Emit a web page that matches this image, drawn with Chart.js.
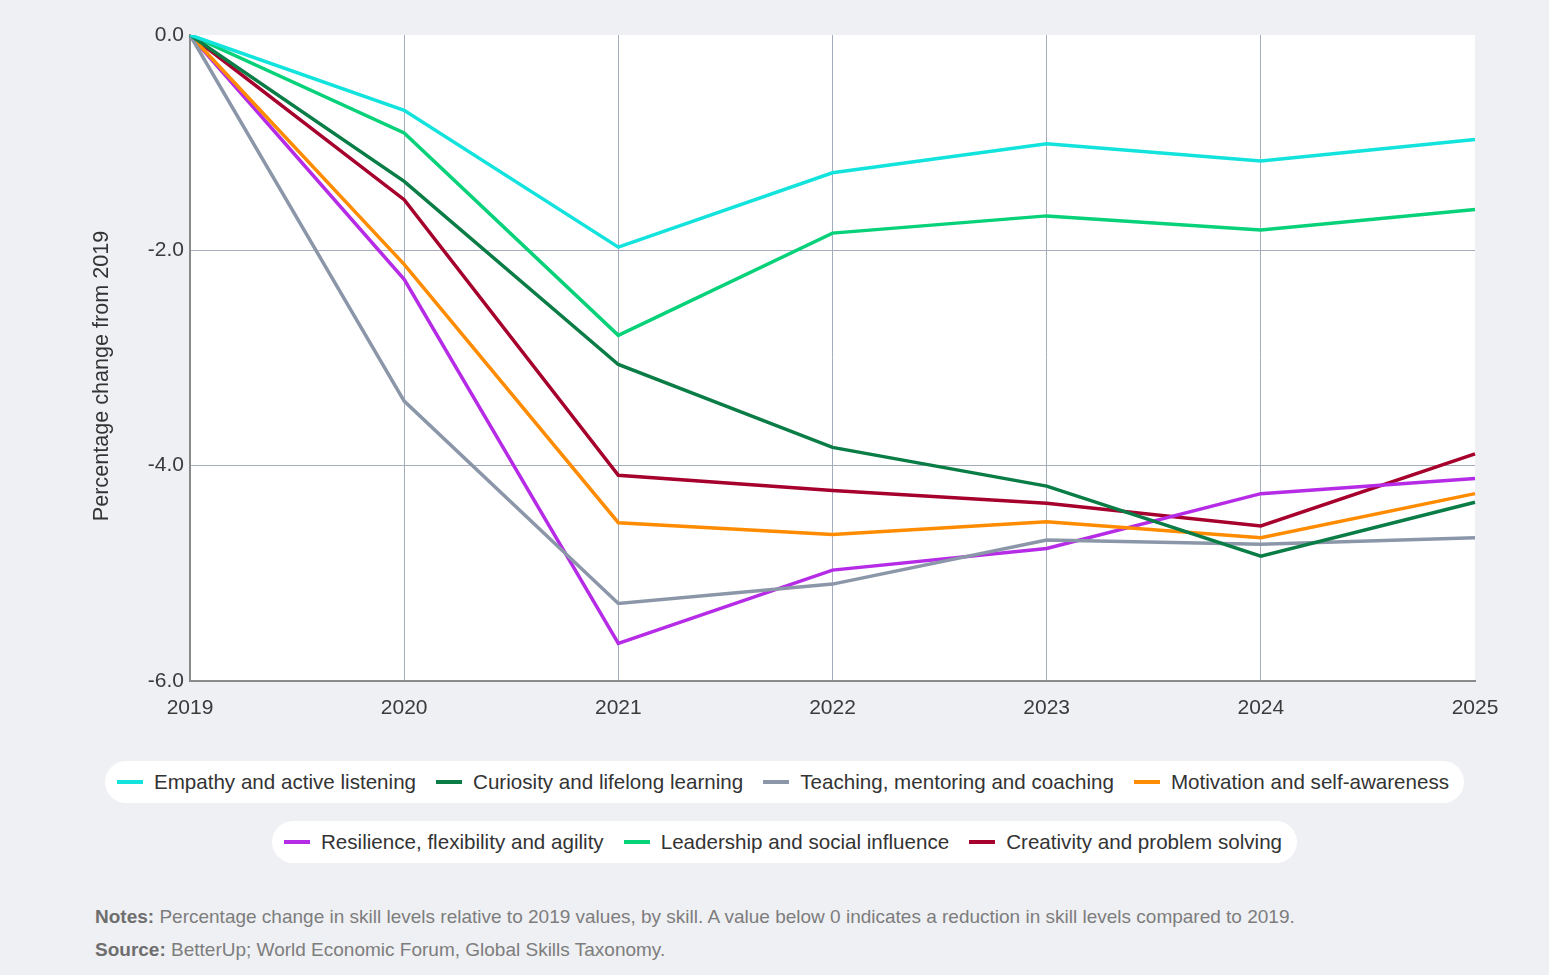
<!DOCTYPE html>
<html>
<head>
<meta charset="utf-8">
<script src="https://cdn.jsdelivr.net/npm/chart.js@4/dist/chart.umd.min.js"></script>
<style>
  html, body { margin:0; padding:0; background:#eff0f4; width:1549px; height:975px; overflow:hidden;
    font-family:"Liberation Sans", Arial, sans-serif; }
  #wrap { position:absolute; left:0; top:0; width:1549px; height:730px; }
  #legend { position:absolute; left:0; top:761px; width:1569px; text-align:center; }
  .row { display:inline-flex; align-items:center; height:42px; background:#fff; border-radius:21px;
    padding:0 15px 0 12px; margin-bottom:18px; font-size:20.6px; color:#333; white-space:nowrap; }
  .item { display:inline-flex; align-items:center; margin-left:20px; }
  .item:first-child { margin-left:0; }
  .sym { display:inline-block; width:26px; height:4px; margin-right:11px; }
  #notes { position:absolute; left:95px; top:900px; font-size:19px; color:#7d7d7d; line-height:33px; }
  #notes b { color:#6e6e6e; }
</style>
</head>
<body>
<div id="wrap"><canvas id="c"></canvas></div>
<div id="legend"></div>
<div id="notes">
  <div><b>Notes:</b> Percentage change in skill levels relative to 2019 values, by skill. A value below 0 indicates a reduction in skill levels compared to 2019.</div>
  <div><b>Source:</b> BetterUp; World Economic Forum, Global Skills Taxonomy.</div>
</div>
<script>
const years = ["2019","2020","2021","2022","2023","2024","2025"];
const seriesNames = [
  "Empathy and active listening",
  "Curiosity and lifelong learning",
  "Teaching, mentoring and coaching",
  "Motivation and self-awareness",
  "Resilience, flexibility and agility",
  "Leadership and social influence",
  "Creativity and problem solving"
];
const empathy    = [0, -0.70, -1.97, -1.28, -1.01, -1.17, -0.97];
const curiosity  = [0, -1.36, -3.06, -3.83, -4.19, -4.84, -4.34];
const teaching   = [0, -3.40, -5.28, -5.10, -4.69, -4.73, -4.67];
const motivation = [0, -2.13, -4.53, -4.64, -4.52, -4.67, -4.26];
const resilience = [0, -2.27, -5.65, -4.97, -4.77, -4.26, -4.12];
const leadership = [0, -0.91, -2.79, -1.84, -1.68, -1.81, -1.62];
const creativity = [0, -1.53, -4.09, -4.23, -4.35, -4.56, -3.89];
const yTicks = [0, -2, -4, -6];
const yTitle = "Percentage change from 2019";

const colors = ["#12e3dc", "#0a7d47", "#8b97a9", "#ff8c00", "#b52be6", "#07d179", "#a6012d"];
const values = [empathy, curiosity, teaching, motivation, resilience, leadership, creativity];

const datasets = seriesNames.map((n, i) => ({
  label: n, data: values[i], borderColor: colors[i], backgroundColor: colors[i],
  borderWidth: 3.5, pointRadius: 0, tension: 0, fill: false
}));

const bgPlugin = {
  id: 'bg',
  beforeDraw(chart) {
    const a = chart.chartArea, ctx = chart.ctx;
    ctx.save(); ctx.fillStyle = '#ffffff';
    ctx.fillRect(a.left, a.top, a.right - a.left, a.bottom - a.top);
    ctx.restore();
  }
};

const font = { family: '"Liberation Sans", Arial, sans-serif', size: 21 };

new Chart(document.getElementById('c'), {
  type: 'line',
  data: { labels: years, datasets },
  options: {
    responsive: true, maintainAspectRatio: false, animation: false,
    layout: { padding: { left: 80, right: 74, top: 35, bottom: 0 } },
    plugins: { legend: { display: false }, tooltip: { enabled: false } },
    scales: {
      x: {
        offset: false,
        grid: { color: ctx => (ctx.index === years.length - 1 ? 'rgba(0,0,0,0)' : '#a5adbd'), lineWidth: 1, drawTicks: false },
        border: { display: true, color: '#8a8a8a', width: 2 },
        ticks: { color: '#3a3a3a', font, padding: 15, maxRotation: 0 },
        afterFit(s) { s.height = 49; }
      },
      y: {
        min: -6, max: 0,
        afterBuildTicks(s) { s.ticks = yTicks.map(v => ({ value: v })); },
        grid: { color: ctx => (ctx.tick && (ctx.tick.value === 0 || ctx.tick.value === -6) ? 'rgba(0,0,0,0)' : '#a5adbd'), lineWidth: 1, drawTicks: false },
        border: { display: true, color: '#8a8a8a', width: 2 },
        ticks: { color: '#3a3a3a', font, padding: 6, callback: v => Number(v).toFixed(1) },
        title: { display: true, text: yTitle + '\u00a0\u00a0\u00a0\u00a0\u00a0\u00a0', color: '#333', font: { family: font.family, size: 21.6 }, padding: { top: 9, bottom: 0 } },
        afterFit(s) { s.width = 110; }
      }
    }
  },
  plugins: [bgPlugin]
});

// HTML legend built from the datasets
const leg = document.getElementById('legend');
const rows = [[0,1,2,3],[4,5,6]];
rows.forEach(r => {
  const row = document.createElement('div'); row.className = 'row';
  r.forEach(i => {
    const it = document.createElement('span'); it.className = 'item';
    const s = document.createElement('span'); s.className = 'sym'; s.style.background = colors[i];
    it.appendChild(s); it.appendChild(document.createTextNode(seriesNames[i]));
    row.appendChild(it);
  });
  leg.appendChild(row);
  leg.appendChild(document.createElement('br'));
});
</script>
</body>
</html>
